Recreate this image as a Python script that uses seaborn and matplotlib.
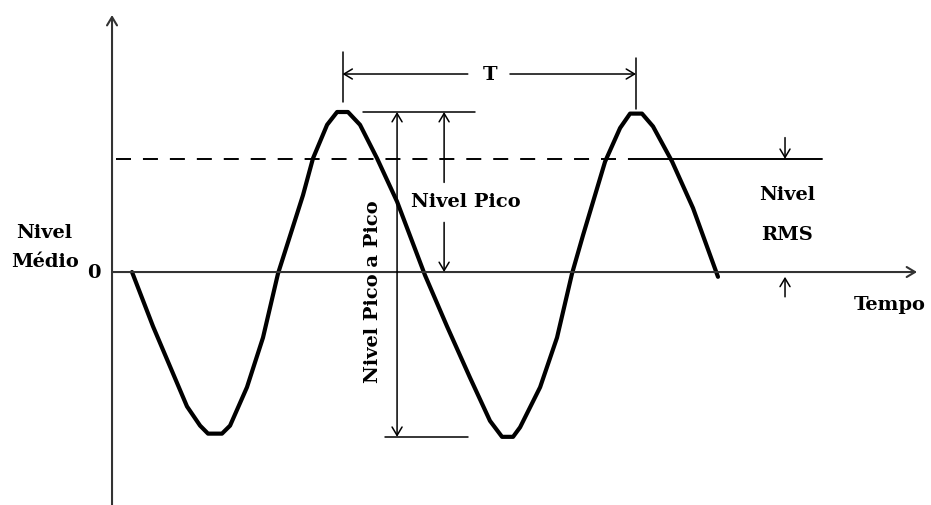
import numpy as np
import matplotlib
matplotlib.use("Agg")
import matplotlib.pyplot as plt
import seaborn as sns

# Forma de onda (tempo em ms, nivel normalizado pelo pico)
tempo = [1.36, 2.79, 5.10, 5.99, 6.53, 7.48, 8.03, 9.18, 10.27, 11.29,
         12.99, 13.67, 14.63, 15.31, 16.05, 16.87, 18.03, 19.39, 21.29,
         22.79, 24.35, 25.71, 26.53, 27.28, 27.76, 29.12, 30.27, 31.29,
         32.04, 33.54, 34.56, 35.24, 36.05, 36.80, 38.10, 39.52, 41.22]
nivel = [0.00, -0.34, -0.84, -0.96, -1.01, -1.01, -0.96, -0.72, -0.41, -0.01,
         0.48, 0.71, 0.92, 1.00, 1.00, 0.92, 0.71, 0.44, -0.02,
         -0.34, -0.66, -0.93, -1.03, -1.03, -0.97, -0.72, -0.41, -0.01,
         0.23, 0.69, 0.90, 0.99, 0.99, 0.91, 0.69, 0.40, -0.03]

rotulo_medio = ["Nivel", "Médio"]
rotulo_rms = ["Nivel", "RMS"]

sns.set_theme(style="white")
plt.rcParams["font.family"] = ["DejaVu Serif"]
plt.rcParams["font.weight"] = "bold"
plt.rcParams["text.color"] = "black"

fig = plt.figure(figsize=(9.31, 5.05), dpi=100)
ax = fig.add_axes([0, 0, 1, 1])
ax.set_xlim(-7.62, 55.71)
ax.set_ylim(-1.456, 1.70)
ax.set_axis_off()

pico = max(nivel)
vale = min(nivel)
rms = pico / np.sqrt(2)
# instantes dos dois picos (centro do topo achatado)
t_pico1 = (tempo[13] + tempo[14]) / 2
t_pico2 = (tempo[31] + tempo[32]) / 2

eixo = "#333333"
fs = 14


def seta(tip, tail, lw=1.1, color="black"):
    ax.annotate("", xy=tip, xytext=tail,
                arrowprops=dict(arrowstyle="->,head_length=0.5,head_width=0.3",
                                lw=lw, color=color, shrinkA=0, shrinkB=0,
                                mutation_scale=12))


# eixos
seta((0, 1.606), (0, -1.456), lw=1.5, color=eixo)
seta((54.76, 0), (0, 0), lw=1.5, color=eixo)

# nivel RMS: tracejado e depois continuo
lw_d = 1.4
ax.plot([0.27, 36.1], [rms, rms], color="black", lw=lw_d,
        linestyle=(0, (10.8 / lw_d, 8.6 / lw_d)))
ax.plot([36.1, 48.3], [rms, rms], color="black", lw=lw_d)

# onda
sns.lineplot(x=tempo, y=nivel, sort=False, color="black", lw=3.0, ax=ax)

# pico a pico
ax.plot([17.07, 24.69], [pico, pico], color="black", lw=1.1)
ax.plot([18.57, 24.22], [vale, vale], color="black", lw=1.1)
seta((19.39, pico), (19.39, 0))
seta((19.39, vale), (19.39, 0))
ax.text(17.76, -0.125, "Nivel Pico a Pico", rotation=90, ha="center",
        va="center", fontsize=fs)

# nivel pico
seta((22.59, pico), (22.59, 0.56))
seta((22.59, 0), (22.59, 0.31))
ax.text(24.08, 0.44, "Nivel Pico", ha="center", va="center", fontsize=fs)

# periodo T
ax.plot([t_pico1, t_pico1], [1.06, 1.375], color="black", lw=1.1)
ax.plot([t_pico2, t_pico2], [1.02, 1.34], color="black", lw=1.1)
seta((t_pico1, 1.2375), (24.2, 1.2375))
seta((t_pico2, 1.2375), (27.07, 1.2375))
ax.text(25.71, 1.23, "T", ha="center", va="center", fontsize=fs)

# RMS
seta((45.78, rms), (45.78, 0.84))
seta((45.78, -0.03), (45.78, -0.155))
ax.text(45.92, 0.48, rotulo_rms[0], ha="center", va="center", fontsize=fs)
ax.text(45.92, 0.23, rotulo_rms[1], ha="center", va="center", fontsize=fs)

# rotulos dos eixos
ax.text(52.9, -0.206, "Tempo", ha="center", va="center", fontsize=fs)
ax.text(-4.63, 0.244, rotulo_medio[0], ha="center", va="center", fontsize=fs)
ax.text(-4.56, 0.0625, rotulo_medio[1], ha="center", va="center", fontsize=fs)
ax.text(-1.22, -0.006, "0", ha="center", va="center", fontsize=fs)

fig.savefig("out.png", dpi=100, facecolor="white")
